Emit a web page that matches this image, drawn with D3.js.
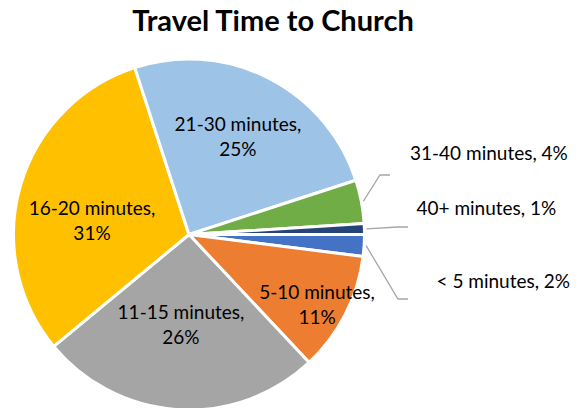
<!DOCTYPE html>
<html><head><meta charset="utf-8">
<script src="https://cdn.jsdelivr.net/npm/d3@7"></script>
<style>body{margin:0;background:#fff}svg{display:block}</style>
</head><body>
<script>
const categories = ["< 5 minutes", "5-10 minutes", "11-15 minutes", "16-20 minutes", "21-30 minutes", "31-40 minutes", "40+ minutes"];
const values = [2, 11, 26, 31, 25, 4, 1];
const colors = ["#4472C4", "#ED7D31", "#A5A5A5", "#FFC000", "#9DC3E6", "#70AD47", "#264478"];
const title = "Travel Time to Church";

const W = 586, H = 408;
const cx = 189, cy = 234.5, R = 175.5;
const font = "Lato, 'Open Sans', sans-serif";

const svg = d3.select("body").append("svg").attr("width", W).attr("height", H);

svg.append("text").attr("x", 273).attr("y", 31).attr("text-anchor", "middle")
  .attr("font-family", font).attr("font-weight", "bold").attr("font-size", 29).attr("fill", "#000")
  .text(title);

const total = d3.sum(values);
const data = categories.map((c, i) => ({cat: c, value: values[i], color: colors[i]}));
const pie = d3.pie().value(d => d.value).sort(null).startAngle(Math.PI / 2).endAngle(Math.PI / 2 + 2 * Math.PI);
const arcs = pie(data);
const arc = d3.arc().innerRadius(0).outerRadius(R);
const pct = d3.format(".0%");

const g = svg.append("g").attr("transform", `translate(${cx},${cy})`);
g.selectAll("path").data(arcs).join("path")
  .attr("d", arc).attr("fill", d => d.data.color)
  .attr("stroke", "#fff").attr("stroke-width", 3).attr("stroke-linejoin", "round");

// inside labels: distance from centre and angle nudge (degrees) from slice bisector
const inside = {
  "5-10 minutes": {r: 146, da: 1.7},
  "11-15 minutes": {r: 90.4, da: 1.5},
  "16-20 minutes": {r: 98, da: -8},
  "21-30 minutes": {r: 109, da: -0.3}
};
const outside = {
  "31-40 minutes": {lx: 390, ly: 175, tx: 410, ty: 153.5},
  "40+ minutes": {lx: 408, ly: 227, tx: 416.5, ty: 208.5},
  "< 5 minutes": {lx: 408, ly: 299, tx: 436.5, ty: 281.5}
};
const fs = 19, lh = 25;

arcs.forEach(a => {
  const name = a.data.cat;
  const label1 = name + ",";
  const label2 = pct(a.data.value / total);
  if (inside[name]) {
    const o = inside[name];
    const ang = (a.startAngle + a.endAngle) / 2 + o.da * Math.PI / 180;
    const x = cx + o.r * Math.sin(ang), y = cy - o.r * Math.cos(ang);
    const t = svg.append("text").attr("text-anchor", "middle")
      .attr("font-family", font).attr("font-size", fs).attr("fill", "#000");
    t.append("tspan").attr("x", x).attr("y", y - lh / 2).attr("dy", "0.35em").text(label1);
    t.append("tspan").attr("x", x).attr("y", y + lh / 2).attr("dy", "0.35em").text(label2);
  } else {
    const o = outside[name];
    const mid = (a.startAngle + a.endAngle) / 2;
    const sx = cx + (R + 2) * Math.sin(mid), sy = cy - (R + 2) * Math.cos(mid);
    svg.append("polyline")
      .attr("points", `${sx},${sy} ${o.lx - 10},${o.ly} ${o.lx},${o.ly}`)
      .attr("fill", "none").attr("stroke", "#A6A6A6").attr("stroke-width", 1.3);
    svg.append("text").attr("x", o.tx).attr("y", o.ty).attr("dy", "0.35em")
      .attr("font-family", font).attr("font-size", fs).attr("fill", "#000")
      .text(name + ", " + label2);
  }
});
</script>
</body></html>
